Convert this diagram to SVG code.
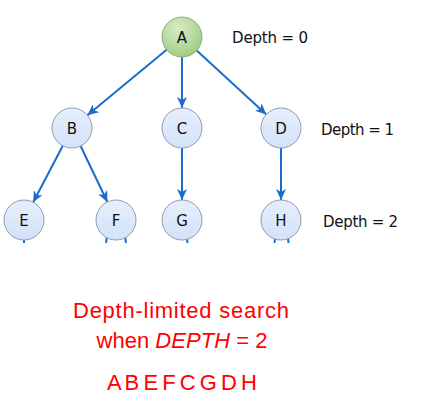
<svg xmlns="http://www.w3.org/2000/svg" width="442" height="415" viewBox="0 0 442 415">
<style>
.node{fill:url(#blue);stroke:#8d9db4;stroke-width:1}
.root{fill:url(#green);stroke:#8fae7b;stroke-width:1}
.lbl{font-family:"DejaVu Sans",sans-serif;font-size:15px;fill:#111;text-anchor:middle}
.depth{font-family:"DejaVu Sans",sans-serif;font-size:15px;fill:#111}
.edge{stroke:#1a6ccc;stroke-width:2;fill:none}
.arr{marker-end:url(#ah)}
.cap{font-family:"Liberation Sans",Arial,sans-serif;font-size:22px;fill:#ff0000;text-anchor:middle}
</style>
<defs>
<linearGradient id="blue" x1="0" y1="0" x2="0" y2="1">
<stop offset="0" stop-color="#e6effc"/>
<stop offset="1" stop-color="#d3e2f8"/>
</linearGradient>
<radialGradient id="green" cx="0.4" cy="0.3" r="0.75">
<stop offset="0" stop-color="#d9ecc9"/>
<stop offset="1" stop-color="#9ccc7e"/>
</radialGradient>
<marker id="ah" markerUnits="userSpaceOnUse" markerWidth="12" markerHeight="10" refX="11" refY="5" orient="auto">
<path d="M0,0 L11,5 L0,10 L3,5 Z" fill="#1a6ccc"/>
</marker>
</defs>
<rect width="442" height="415" fill="#fff"/>
<g id="connectors">
<line class="edge arr" x1="166.6" y1="49.7" x2="87.4" y2="115.3"/>
<line class="edge arr" x1="182" y1="57" x2="182" y2="108"/>
<line class="edge arr" x1="196.7" y1="50.5" x2="266.3" y2="114.5"/>
<line class="edge arr" x1="62.8" y1="145.7" x2="33.2" y2="202.3"/>
<line class="edge arr" x1="80.6" y1="146" x2="107.4" y2="202"/>
<line class="edge arr" x1="182" y1="148" x2="182" y2="200"/>
<line class="edge arr" x1="281" y1="148" x2="281" y2="200"/>
<line class="edge" x1="24" y1="239" x2="24" y2="243"/>
<line class="edge" x1="107" y1="237" x2="106" y2="243"/>
<line class="edge" x1="125" y1="237" x2="126" y2="243"/>
<line class="edge" x1="187" y1="239" x2="187.5" y2="243"/>
<line class="edge" x1="275" y1="238" x2="274.5" y2="243"/>
<line class="edge" x1="288" y1="238" x2="288.5" y2="243"/>
</g>
<g id="node-A"><circle class="root" cx="182" cy="37" r="20"/><text class="lbl" x="182" y="42.5">A</text></g>
<g id="node-B"><circle class="node" cx="72" cy="128" r="20"/><text class="lbl" x="72" y="133.5">B</text></g>
<g id="node-C"><circle class="node" cx="182" cy="128" r="20"/><text class="lbl" x="182" y="133.5">C</text></g>
<g id="node-D"><circle class="node" cx="281" cy="128" r="20"/><text class="lbl" x="281" y="133.5">D</text></g>
<g id="node-E"><circle class="node" cx="24" cy="220" r="20"/><text class="lbl" x="24" y="225.5">E</text></g>
<g id="node-F"><circle class="node" cx="116" cy="220" r="20"/><text class="lbl" x="116" y="225.5">F</text></g>
<g id="node-G"><circle class="node" cx="182" cy="220" r="20"/><text class="lbl" x="182" y="225.5">G</text></g>
<g id="node-H"><circle class="node" cx="281" cy="220" r="20"/><text class="lbl" x="281" y="225.5">H</text></g>
<g id="depth-labels">
<text class="depth" x="232" y="43" textLength="76">Depth = 0</text>
<text class="depth" x="321" y="135" textLength="73">Depth = 1</text>
<text class="depth" x="323" y="227" textLength="75">Depth = 2</text>
</g>
<g id="caption">
<text class="cap" x="181" y="318" textLength="216">Depth-limited search</text>
<text class="cap" x="182" y="348" textLength="171">when <tspan font-style="italic">DEPTH</tspan> = 2</text>
<text class="cap" x="182" y="390" font-size="23" textLength="150">A B E F C G D H</text>
</g>
</svg>
